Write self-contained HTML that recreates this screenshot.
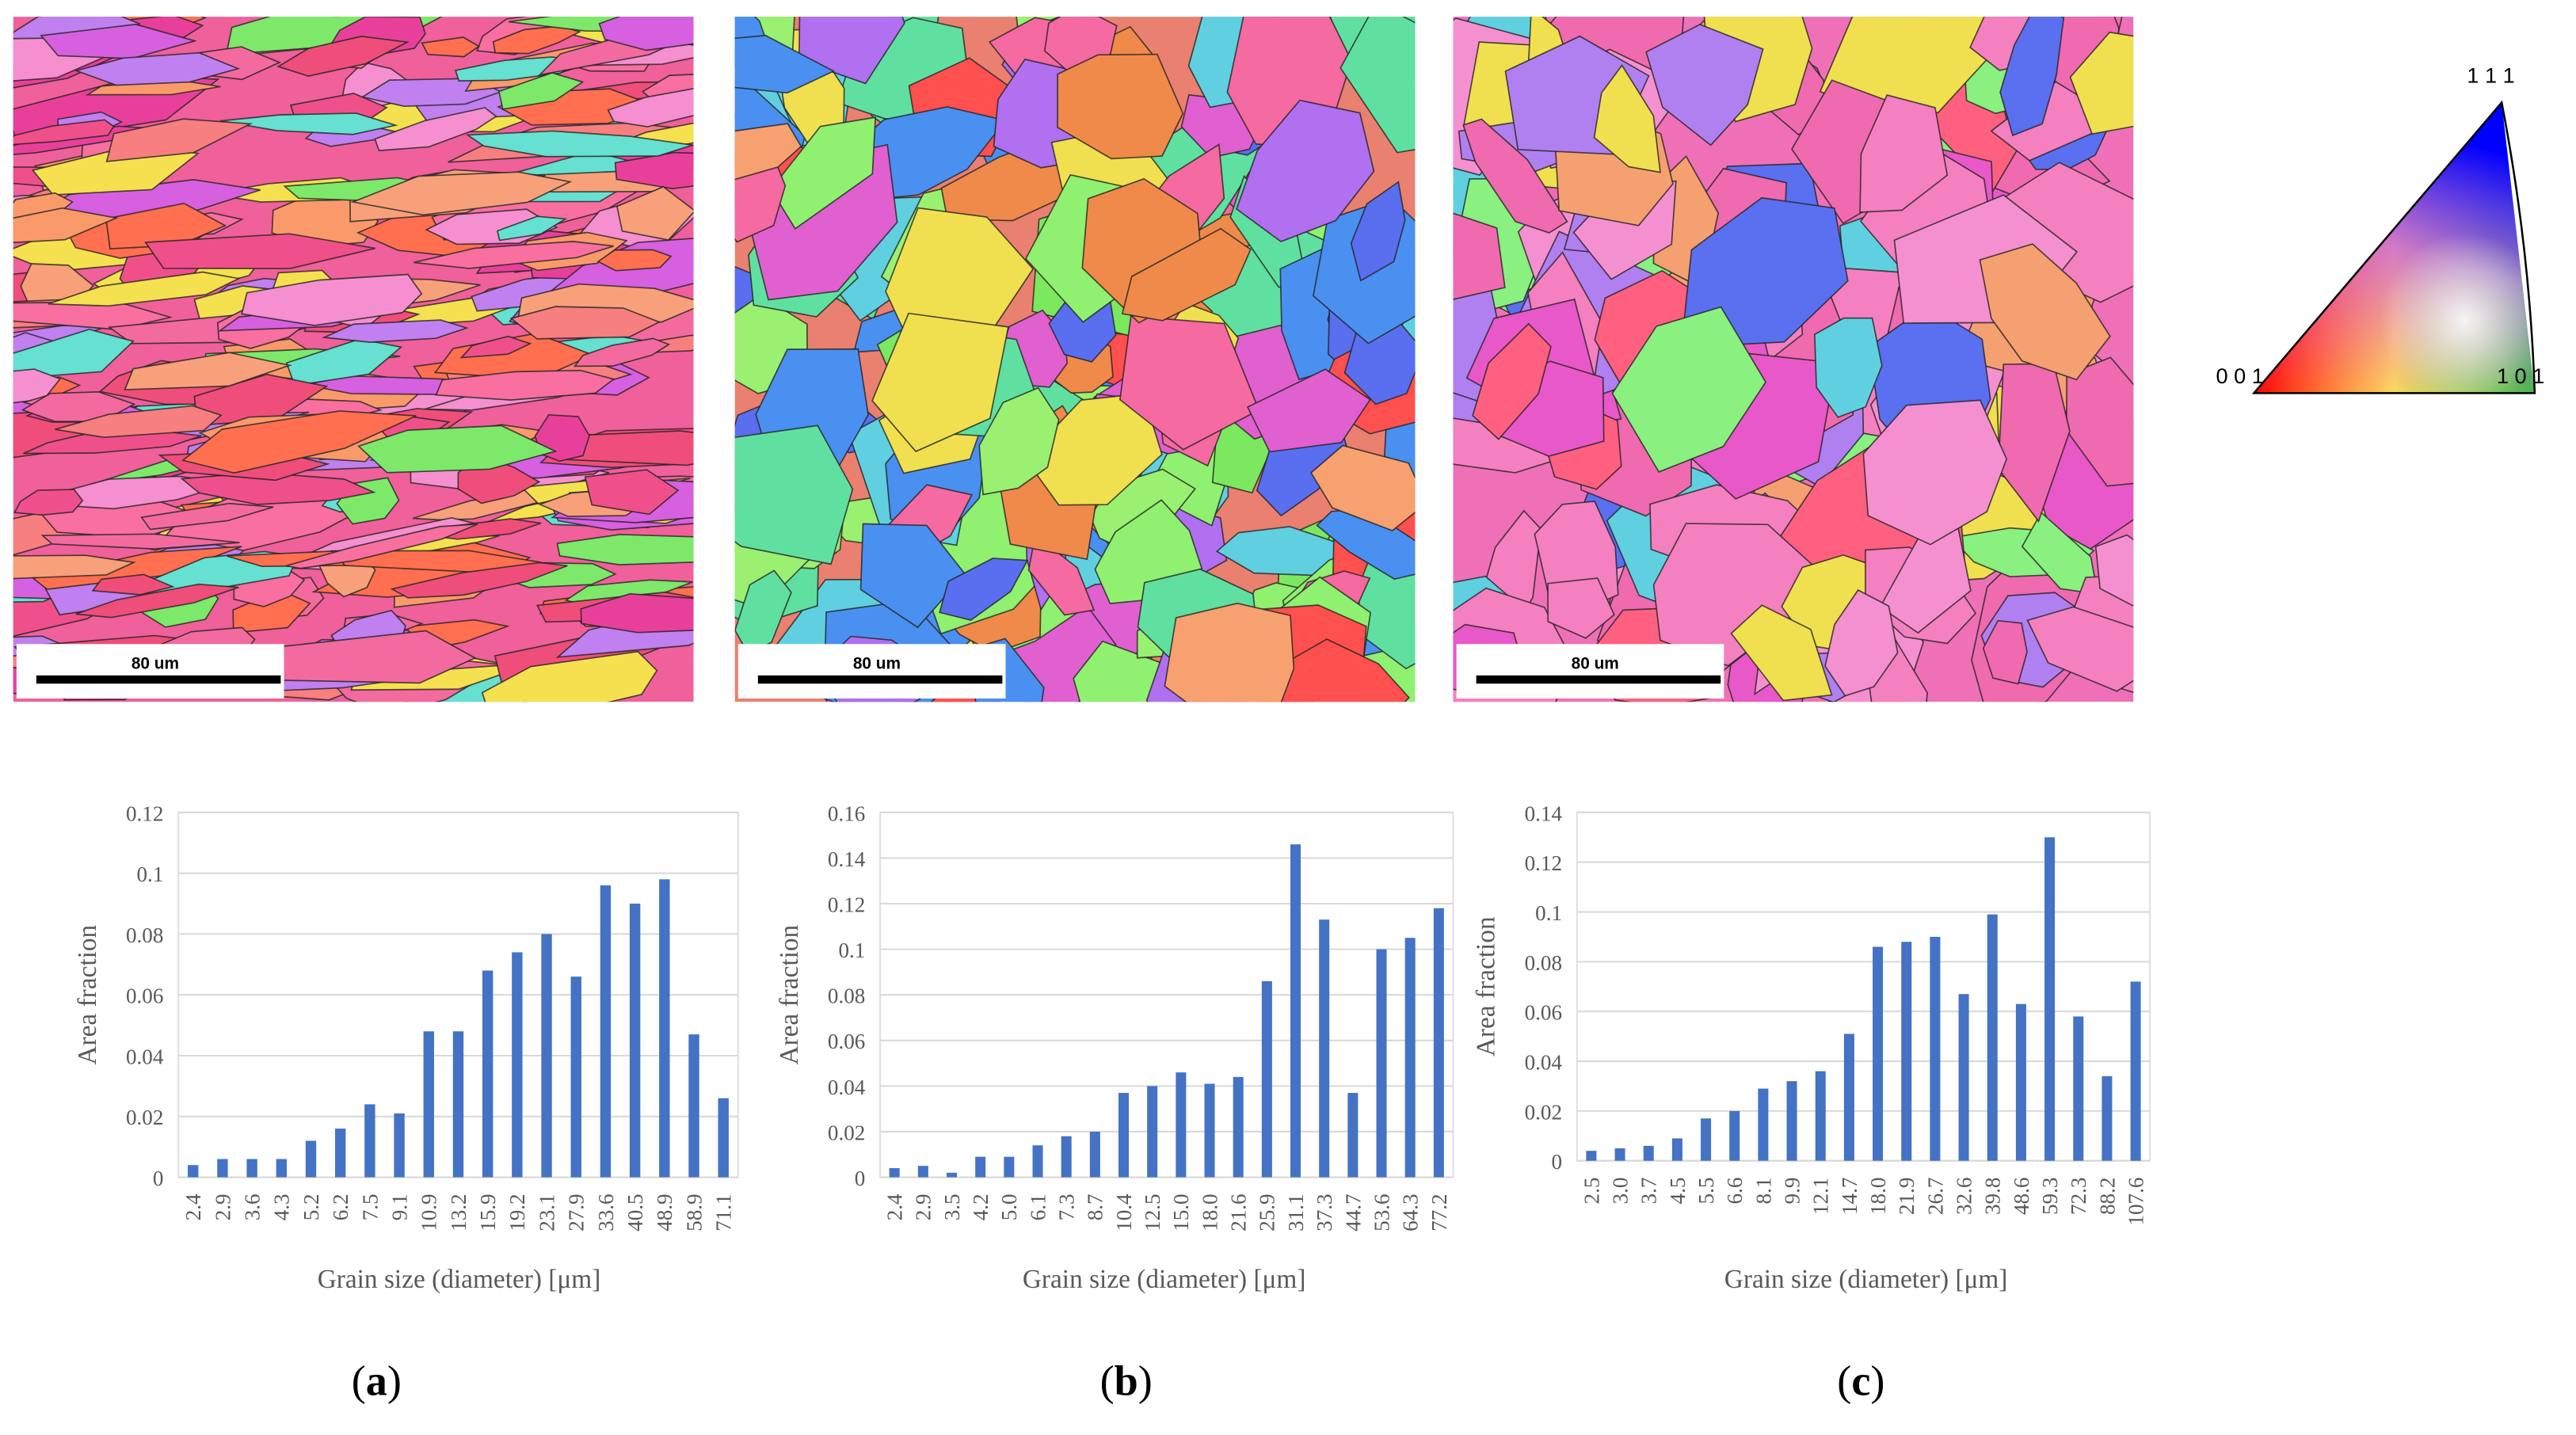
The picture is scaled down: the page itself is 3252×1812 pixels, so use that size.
<!DOCTYPE html>
<html><head><meta charset="utf-8"><style>
html,body{margin:0;padding:0;background:#fff;}
svg{display:block;}
.tk{font-family:"Liberation Serif",serif;fill:#595959;font-size:13px;}
.ti{font-family:"Liberation Serif",serif;fill:#595959;font-size:16px;}
.pl{font-family:"Liberation Serif",serif;fill:#000;font-size:26px;}
.sb{font-family:"Liberation Sans",sans-serif;font-size:10px;font-weight:bold;fill:#000;}
</style></head><body>
<svg id="root" width="3252" height="1812" viewBox="0 0 1560 869">
<defs>
<linearGradient id="rg" x1="0" y1="0" x2="1" y2="0"><stop offset="0" stop-color="#ff0000"/><stop offset="0.5" stop-color="#ffff40"/><stop offset="1" stop-color="#00ff00"/></linearGradient>
<linearGradient id="bg" x1="0" y1="1" x2="0.3" y2="0"><stop offset="0" stop-color="#ff00ff" stop-opacity="0"/><stop offset="0.6" stop-color="#c040ff" stop-opacity="0.7"/><stop offset="1" stop-color="#0000ff" stop-opacity="1"/></linearGradient>
<radialGradient id="wg" cx="0.75" cy="0.75" r="0.3"><stop offset="0" stop-color="#fff" stop-opacity="0.9"/><stop offset="1" stop-color="#fff" stop-opacity="0"/></radialGradient>
<clipPath id="ca"><rect x="8" y="10" width="412" height="415"/></clipPath>
<clipPath id="cb"><rect x="445" y="10" width="412" height="415"/></clipPath>
<clipPath id="cc"><rect x="880" y="10" width="412" height="415"/></clipPath>
</defs>
<g id="maps"></g>
<g>
<polygon points="1365,238 1535,238 1515,62" fill="url(#rg)"/>
<polygon points="1365,238 1535,238 1515,62" fill="url(#bg)"/>
<polygon points="1365,238 1535,238 1515,62" fill="url(#wg)"/>
<path d="M1365,238 L1535,238 Q1532,150 1515,62 Z" fill="none" stroke="#000" stroke-width="1.2"/>
<text class="sb" x="1342" y="232" style="font-weight:normal;font-size:13px">0 0 1</text>
<text class="sb" x="1512" y="232" style="font-weight:normal;font-size:13px">1 0 1</text>
<text class="sb" x="1494" y="50" style="font-weight:normal;font-size:13px">1 1 1</text>
</g>
<g id="charts"></g>
<text class="pl" x="228" y="845" text-anchor="middle">(<tspan font-weight="bold">a</tspan>)</text>
<text class="pl" x="682" y="845" text-anchor="middle">(<tspan font-weight="bold">b</tspan>)</text>
<text class="pl" x="1127" y="845" text-anchor="middle">(<tspan font-weight="bold">c</tspan>)</text>
</svg>
<script>
const catsA=["2.4","2.9","3.6","4.3","5.2","6.2","7.5","9.1","10.9","13.2","15.9","19.2","23.1","27.9","33.6","40.5","48.9","58.9","71.1"];
const valsA=[0.004,0.006,0.006,0.006,0.012,0.016,0.024,0.021,0.048,0.048,0.068,0.074,0.080,0.066,0.096,0.090,0.098,0.047,0.026];
const ticksA=["0","0.02","0.04","0.06","0.08","0.1","0.12"];
const catsB=["2.4","2.9","3.5","4.2","5.0","6.1","7.3","8.7","10.4","12.5","15.0","18.0","21.6","25.9","31.1","37.3","44.7","53.6","64.3","77.2"];
const valsB=[0.004,0.005,0.002,0.009,0.009,0.014,0.018,0.020,0.037,0.040,0.046,0.041,0.044,0.086,0.146,0.113,0.037,0.100,0.105,0.118];
const ticksB=["0","0.02","0.04","0.06","0.08","0.1","0.12","0.14","0.16"];
const catsC=["2.5","3.0","3.7","4.5","5.5","6.6","8.1","9.9","12.1","14.7","18.0","21.9","26.7","32.6","39.8","48.6","59.3","72.3","88.2","107.6"];
const valsC=[0.004,0.005,0.006,0.009,0.017,0.020,0.029,0.032,0.036,0.051,0.086,0.088,0.090,0.067,0.099,0.063,0.130,0.058,0.034,0.072];
const ticksC=["0","0.02","0.04","0.06","0.08","0.1","0.12","0.14"];
const NS="http://www.w3.org/2000/svg";
function mk(tag,attrs,parent){const e=document.createElementNS(NS,tag);for(const k in attrs)e.setAttribute(k,attrs[k]);parent.appendChild(e);return e;}
const charts=document.getElementById('charts');
function chart(id,cats,vals,ticks,L,R,T,B,titleX){
  const g=mk('g',{},charts);
  
  
  const maxV=parseFloat(ticks[ticks.length-1]);
  const y=v=>B-(v/maxV)*(B-T);
  const band=(R-L)/cats.length;
  const x=i=>L+band*(i+0.5);
  mk('rect',{x:L,y:T,width:R-L,height:B-T,fill:'#fff',stroke:'#e0e0e0','stroke-width':1},g);
  ticks.forEach(t=>{
    const yy=y(parseFloat(t));
    const ln=mk('line',{x1:L,x2:R,y1:yy,y2:yy,stroke:'#d9d9d9','stroke-width':1},g);
    
    
    const tx=mk('text',{x:L-9,y:yy+5,'text-anchor':'end',class:'tk'},g);
    tx.textContent=t;
    
    
  });
  vals.forEach((v,i)=>{
    const bw=band*0.36;
    const r=mk('rect',{x:x(i)-bw/2,y:y(v),width:bw,height:B-y(v),fill:'#4472c4'},g);
    
    
    const tx=mk('text',{transform:'translate('+(x(i)+4.5)+','+(B+10)+') rotate(-90)','text-anchor':'end',class:'tk'},g);
    tx.textContent=cats[i];
    
    
  });
  const yt=mk('text',{transform:'translate('+(L-50)+','+((T+B)/2)+') rotate(-90)','text-anchor':'middle',class:'ti'},g);
  yt.textContent='Area  fraction';
  
  
  const xt=mk('text',{x:titleX,y:780,'text-anchor':'middle',class:'ti'},g);
  xt.textContent='Grain  size (diameter) [μm]';
  
  
}
chart('a',catsA,valsA,ticksA,108,447,492,713,278);
chart('b',catsB,valsB,ticksB,533,880,492,713,705);
chart('c',catsC,valsC,ticksC,955,1302,492,703,1130);

// decorative EBSD maps
let seed=7;function rnd(){seed=(seed*16807)%2147483647;return (seed-1)/2147483646;}
const maps=document.getElementById('maps');
function ebsd(id,X,clip,base,pal,n,wmin,wmax,hmin,hmax,rot0,rotv){
  const g=mk('g',{'clip-path':'url(#'+clip+')'},maps);
  
  
  mk('rect',{x:X,y:10,width:412,height:415,fill:base},g);
  for(let i=0;i<n;i++){
    const cx=X+rnd()*412, cy=10+rnd()*415;
    const w=wmin+rnd()*(wmax-wmin), h=hmin+rnd()*(hmax-hmin);
    const a=rot0+(rnd()-0.5)*rotv;
    const pts=[];const k=5+Math.floor(rnd()*3);
    for(let j=0;j<k;j++){const t=j/k*2*Math.PI;const rr=0.7+rnd()*0.4;pts.push((Math.cos(t)*w/2*rr).toFixed(1)+','+(Math.sin(t)*h/2*rr).toFixed(1));}
    mk('polygon',{points:pts.join(' '),transform:'translate('+cx.toFixed(1)+','+cy.toFixed(1)+') rotate('+a.toFixed(1)+')',fill:pal[Math.floor(rnd()*pal.length)],stroke:'#222','stroke-width':0.8,'stroke-opacity':0.8},g);
  }
  const sb=mk('g',{},g);
  
  
  mk('rect',{x:X+2,y:390,width:162,height:33,fill:'#fff'},sb);
  mk('rect',{x:X+14,y:409,width:148,height:5,fill:'#000'},sb);
  const t=mk('text',{x:X+86,y:405,'text-anchor':'middle',class:'sb'},sb);t.textContent='80 um';
}
ebsd('a',8,'ca','#f0609a',['#f0508a','#f36b9e','#e8409a','#f77f7f','#fa9a6a','#f58fcf','#ef4e7a','#d660e0','#7de86a','#f5e050','#ff6f50','#66e0d0','#c080f0','#f86fa0','#f7a07a'],260,40,160,10,34,-6,16);
ebsd('b',445,'cb','#e98070',['#7ce860','#5a6ef0','#f08a4a','#f56aa0','#b070f0','#60d0e0','#f0e050','#ff5050','#9af070','#4a90f0','#e060d0','#f7a070','#90f070','#60e0a0'],170,30,120,30,110,-30,120);
ebsd('c',880,'cc','#f070b8',['#f06ab0','#f580c0','#e858c8','#f06ab0','#f580c0','#f0e050','#5a70f0','#60d0e0','#8af080','#f5a070','#b080f0','#ff6080','#f590d0'],150,30,130,30,120,0,90);
</script>
</body></html>
